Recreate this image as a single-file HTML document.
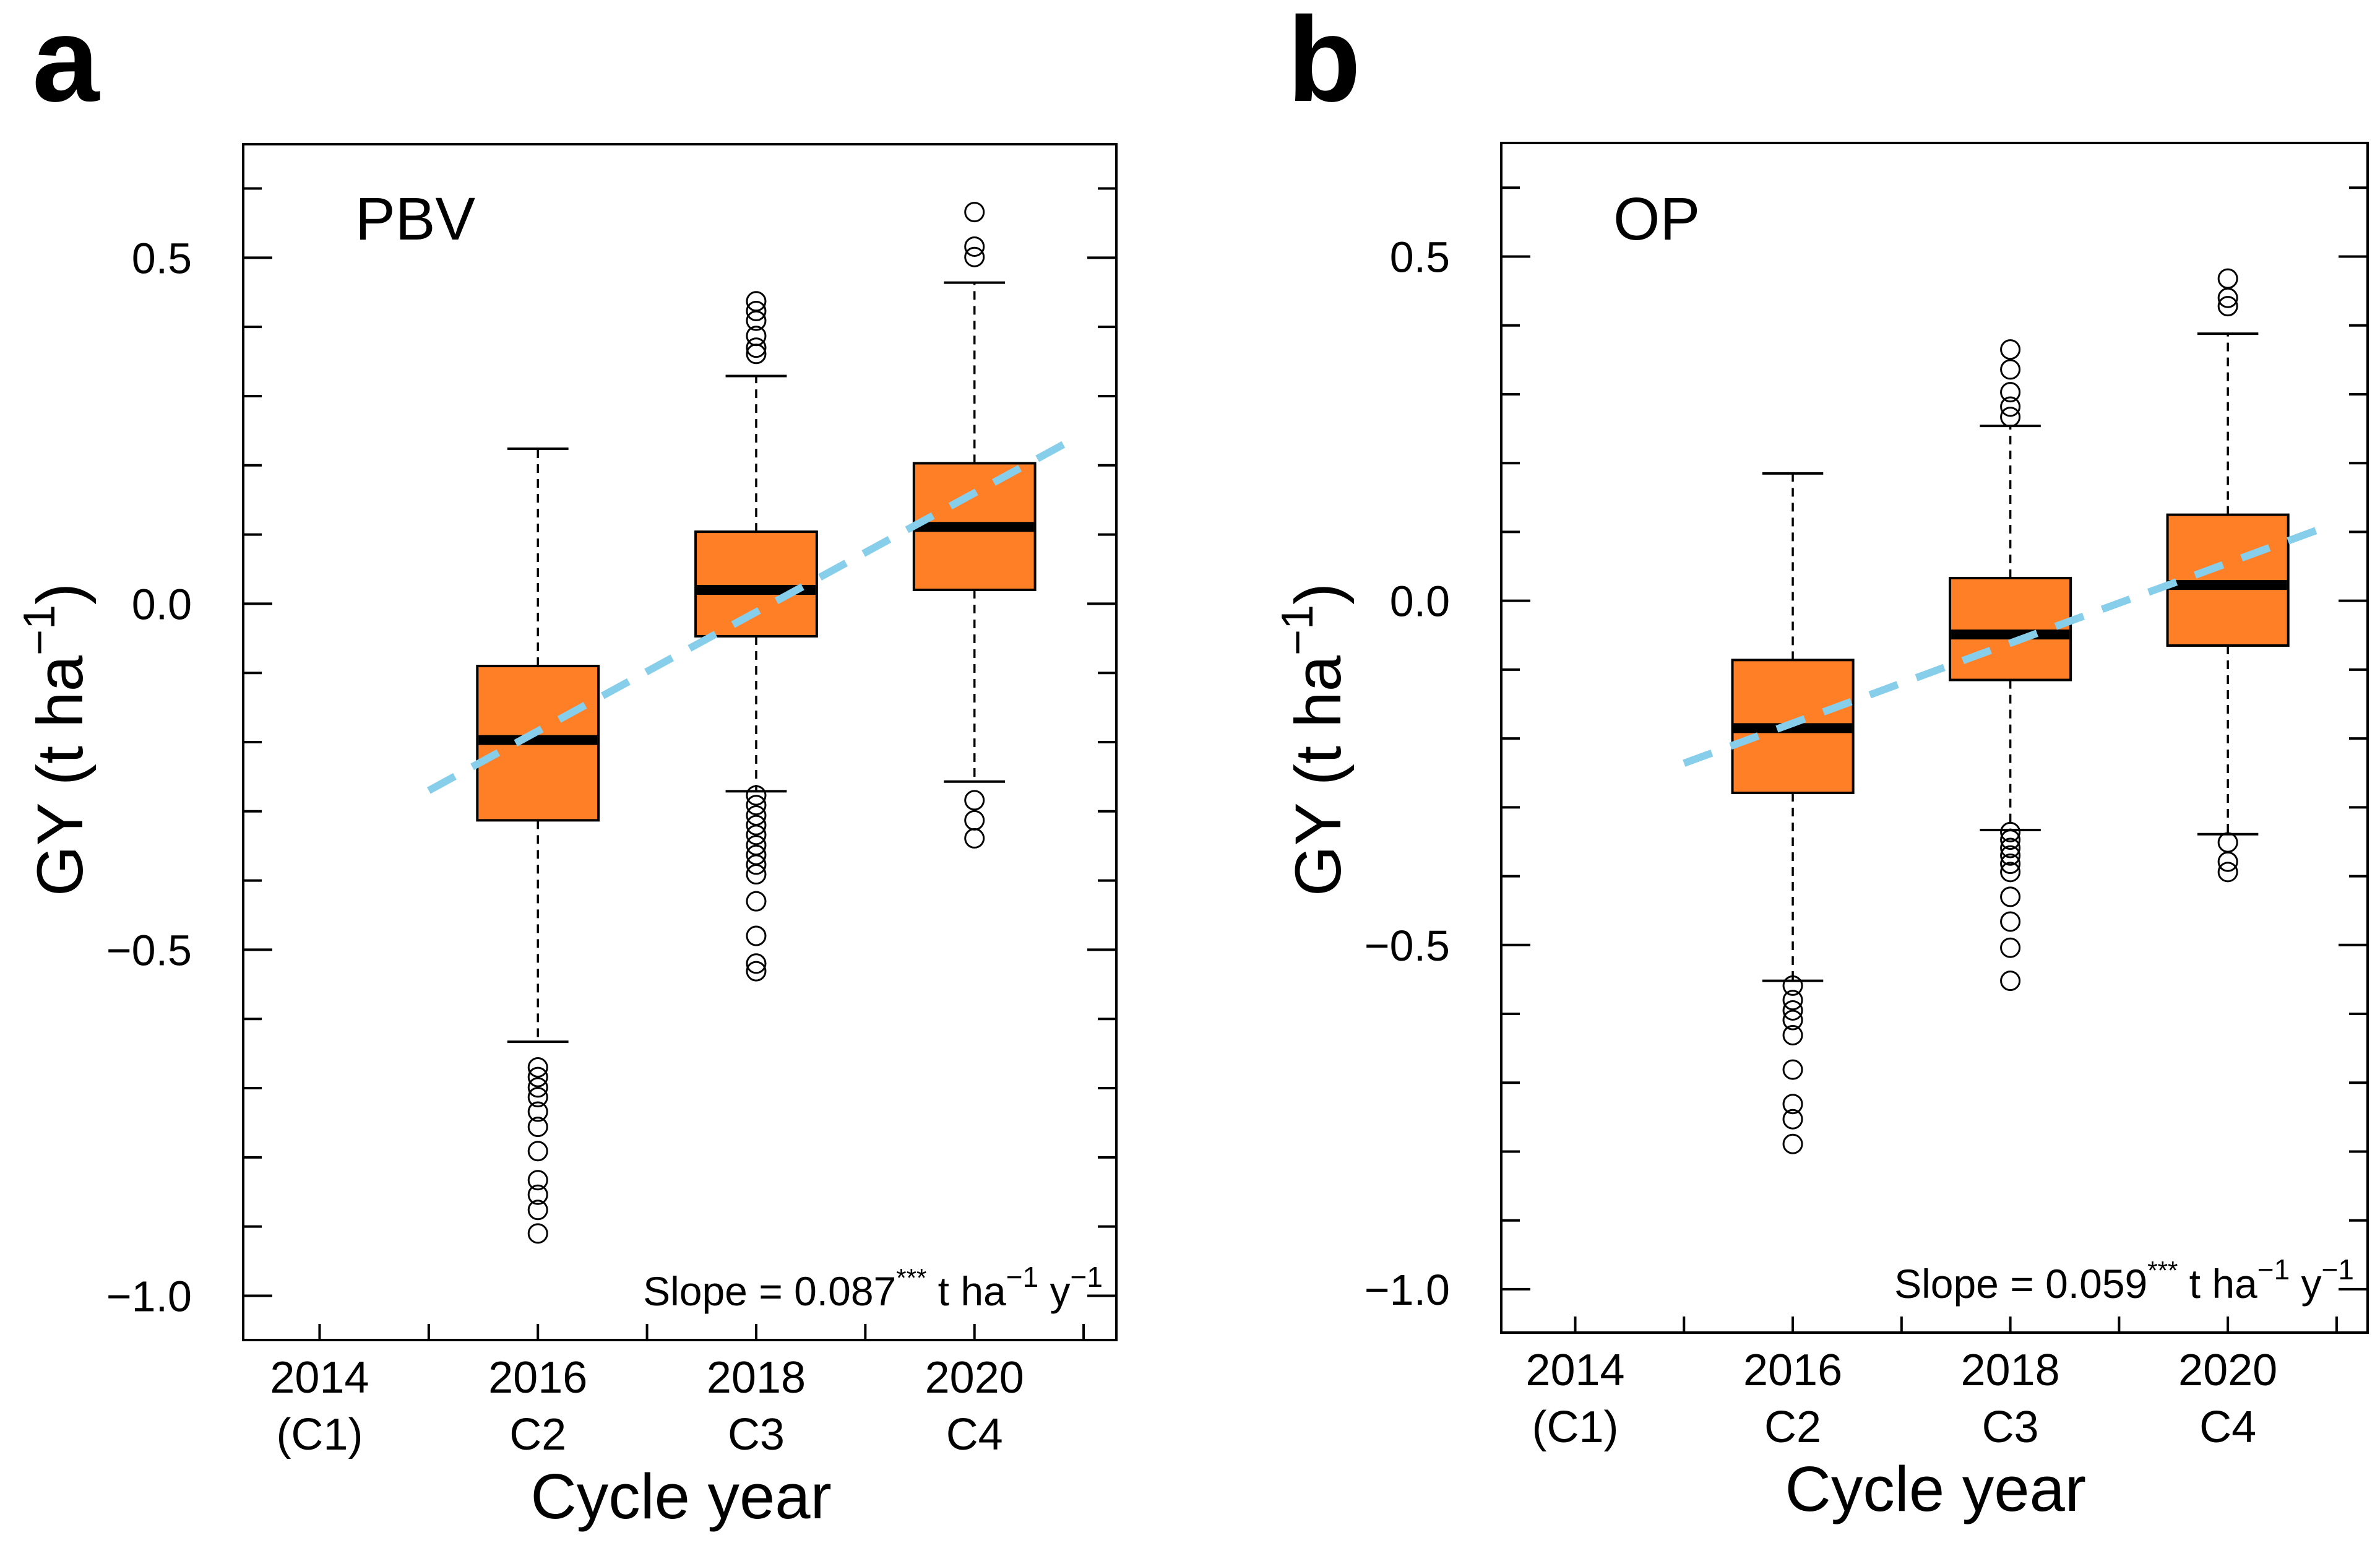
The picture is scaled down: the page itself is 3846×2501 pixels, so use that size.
<!DOCTYPE html>
<html><head><meta charset="utf-8"><style>
html,body{margin:0;padding:0;background:#fff;}
svg{display:block;font-family:"Liberation Sans",Arial,sans-serif;}
</style></head><body>
<svg id="fig" width="3846" height="2501" viewBox="0 0 3846 2501"></svg>
<script>
// ---- Data: panel a (PBV)
const categoriesA = [2016, 2018, 2020];
const whiskerLowA = [-0.633, -0.271, -0.257];
const q1A = [-0.313, -0.047, 0.020];
const medianA = [-0.197, 0.020, 0.111];
const q3A = [-0.090, 0.104, 0.203];
const whiskerHighA = [0.224, 0.329, 0.464];
const outliersA0 = [-0.670,-0.684,-0.699,-0.713,-0.734,-0.756,-0.791,-0.833,-0.854,-0.876,-0.910];
const outliersA1 = [0.437,0.423,0.409,0.387,0.370,0.361,-0.277,-0.291,-0.306,-0.320,-0.334,-0.349,-0.363,-0.377,-0.391,-0.430,-0.480,-0.520,-0.531];
const outliersA2 = [0.566,0.516,0.501,-0.284,-0.313,-0.339];
const trendA = [[2015.0,-0.270],[2020.86,0.234]];
// ---- Data: panel b (OP)
const categoriesB = [2016, 2018, 2020];
const whiskerLowB = [-0.552, -0.333, -0.339];
const q1B = [-0.279, -0.115, -0.065];
const medianB = [-0.185, -0.049, 0.023];
const q3B = [-0.086, 0.033, 0.125];
const whiskerHighB = [0.185, 0.254, 0.388];
const outliersB0 = [-0.559,-0.580,-0.595,-0.609,-0.631,-0.681,-0.731,-0.753,-0.789];
const outliersB1 = [0.365,0.336,0.303,0.282,0.267,-0.336,-0.347,-0.359,-0.370,-0.382,-0.394,-0.430,-0.466,-0.504,-0.552];
const outliersB2 = [0.468,0.440,0.428,-0.351,-0.379,-0.394];
const trendB = [[2015.0,-0.236],[2020.81,0.102]];
// ---- Tick labels
const yTickValues = [0.5, 0.0, -0.5, -1.0];
const yTickLabels = ["0.5", "0.0", "\u22120.5", "\u22121.0"];
const xTickYears = [2014, 2016, 2018, 2020];
const xTickLabels1 = ["2014", "2016", "2018", "2020"];
const xTickLabels2 = ["(C1)", "C2", "C3", "C4"];

const NS = "http://www.w3.org/2000/svg";
const svg = document.getElementById('fig');
function mk(tag, attrs, parent, text){
  const e = document.createElementNS(NS, tag);
  for (const k in attrs) e.setAttribute(k, attrs[k]);
  if (text !== undefined) e.textContent = text;
  (parent||svg).appendChild(e);
  return e;
}

function panel(cfg){
  const g = mk('g', {});
  
  
  const L=cfg.left, R=cfg.right, T=cfg.top, B=cfg.bottom;
  const xs = v => L + (v - cfg.xmin) / (cfg.xmax - cfg.xmin) * (R - L);
  const ys = v => T + (cfg.ymax - v) / (cfg.ymax - cfg.ymin) * (B - T);

  for (let i = -10; i <= 6; i++) {
    const v = i / 10, y = ys(v);
    const major = (i % 5 === 0);
    const len = major ? 47 : 30;
    const t1 = mk('line', {x1:L, y1:y, x2:L+len, y2:y, stroke:'#000', 'stroke-width':4}, g);
    
    
    const t2 = mk('line', {x1:R, y1:y, x2:R-len, y2:y, stroke:'#000', 'stroke-width':4}, g);
    
    
  }
  for (let yr = 2014; yr <= 2021; yr++) {
    const x = xs(yr);
    const t = mk('line', {x1:x, y1:B, x2:x, y2:B-26, stroke:'#000', 'stroke-width':4}, g);
    
    
  }
  yTickValues.forEach((v, i) => {
    const t = mk('text', {x:L-83, y:ys(v)+25, 'font-size':70, 'text-anchor':'end'}, g, yTickLabels[i]);
    
    
  });
  xTickYears.forEach((yr, i) => {
    const t1 = mk('text', {x:xs(yr), y:B+85, 'font-size':72, 'text-anchor':'middle'}, g, xTickLabels1[i]);
    
    
    const t2 = mk('text', {x:xs(yr), y:B+177, 'font-size':72, 'text-anchor':'middle'}, g, xTickLabels2[i]);
    
    
  });

  const hw = 0.555, cw = 0.28;
  cfg.cats.forEach((c, i) => {
    const bg = mk('g', {}, g);
    
    
    const x = xs(c);
    const dash = {stroke:'#000', 'stroke-width':3.5, 'stroke-dasharray':'14 10'};
    const w1 = mk('line', Object.assign({x1:x, y1:ys(cfg.q3[i]), x2:x, y2:ys(cfg.wh[i])}, dash), bg);
    
    
    const w2 = mk('line', Object.assign({x1:x, y1:ys(cfg.q1[i]), x2:x, y2:ys(cfg.wl[i])}, dash), bg);
    
    
    const c1 = mk('line', {x1:xs(c-cw), y1:ys(cfg.wh[i]), x2:xs(c+cw), y2:ys(cfg.wh[i]), stroke:'#000','stroke-width':4}, bg);
    
    
    const c2 = mk('line', {x1:xs(c-cw), y1:ys(cfg.wl[i]), x2:xs(c+cw), y2:ys(cfg.wl[i]), stroke:'#000','stroke-width':4}, bg);
    
    
    const r = mk('rect', {x:xs(c-hw), y:ys(cfg.q3[i]), width:xs(c+hw)-xs(c-hw), height:ys(cfg.q1[i])-ys(cfg.q3[i]), fill:'#FF7F27', stroke:'#000', 'stroke-width':4}, bg);
    
    
    const m = mk('line', {x1:xs(c-hw)+2, y1:ys(cfg.med[i]), x2:xs(c+hw)-2, y2:ys(cfg.med[i]), stroke:'#000', 'stroke-width':16}, bg);
    
    
    cfg.out[i].forEach(v => {
      const o = mk('circle', {cx:x, cy:ys(v), r:15, fill:'none', stroke:'#000', 'stroke-width':3}, bg);
      
      
    });
  });
  const tl = mk('line', {x1:xs(cfg.trend[0][0]), y1:ys(cfg.trend[0][1]), x2:xs(cfg.trend[1][0]), y2:ys(cfg.trend[1][1]), stroke:'#87CEEB', 'stroke-width':12, 'stroke-dasharray':'48 32'}, g);
  
  

  const fr = mk('rect', {x:L, y:T, width:R-L, height:B-T, fill:'none', stroke:'#000', 'stroke-width':4}, g);
  
  

  const pl = mk('text', {x:cfg.lblX, y:163, 'font-size':195, 'font-weight':'bold'}, g, cfg.letter);
  
  
  const gt = mk('text', {x:L+181, y:387, 'font-size':97}, g, cfg.group);
  
  
  const st = mk('text', {x:R-22, y:B-56, 'font-size':66, 'text-anchor':'end'}, g);
  
  
  st.innerHTML = 'Slope = ' + cfg.slope + '<tspan dy="-30" font-size="42">***</tspan><tspan dy="30"> t ha</tspan><tspan dy="-30" font-size="46">\u22121</tspan><tspan dy="30"> y</tspan><tspan dy="-30" font-size="46">\u22121</tspan>';
  const xt = mk('text', {x:(xs(2016)+xs(2018))/2 + 55, y:B+288, 'font-size':103, 'text-anchor':'middle'}, g, 'Cycle year');
  
  
  const yt = mk('text', {x:0, y:0, 'font-size':105, 'text-anchor':'middle', transform:'translate(' + (cfg.ytX) + ',1195) rotate(-90)'}, g);
  
  
  yt.innerHTML = 'GY (t ha<tspan dy="-45" font-size="72">\u22121</tspan><tspan dy="45">)</tspan>';
}

panel({name:'panel-a-pbv', letter:'a', group:'PBV', slope:'0.087', lblX:52, ytX:133,
  left:393, right:1804, top:233, bottom:2165, xmin:2013.30, xmax:2021.30, ymin:-1.064, ymax:0.664,
  cats:categoriesA, wl:whiskerLowA, q1:q1A, med:medianA, q3:q3A, wh:whiskerHighA,
  out:[outliersA0, outliersA1, outliersA2], trend:trendA});
panel({name:'panel-b-op', letter:'b', group:'OP', slope:'0.059', lblX:2080, ytX:2166,
  left:2426, right:3826, top:231, bottom:2153, xmin:2013.32, xmax:2021.285, ymin:-1.063, ymax:0.665,
  cats:categoriesB, wl:whiskerLowB, q1:q1B, med:medianB, q3:q3B, wh:whiskerHighB,
  out:[outliersB0, outliersB1, outliersB2], trend:trendB});
</script>
</body></html>
